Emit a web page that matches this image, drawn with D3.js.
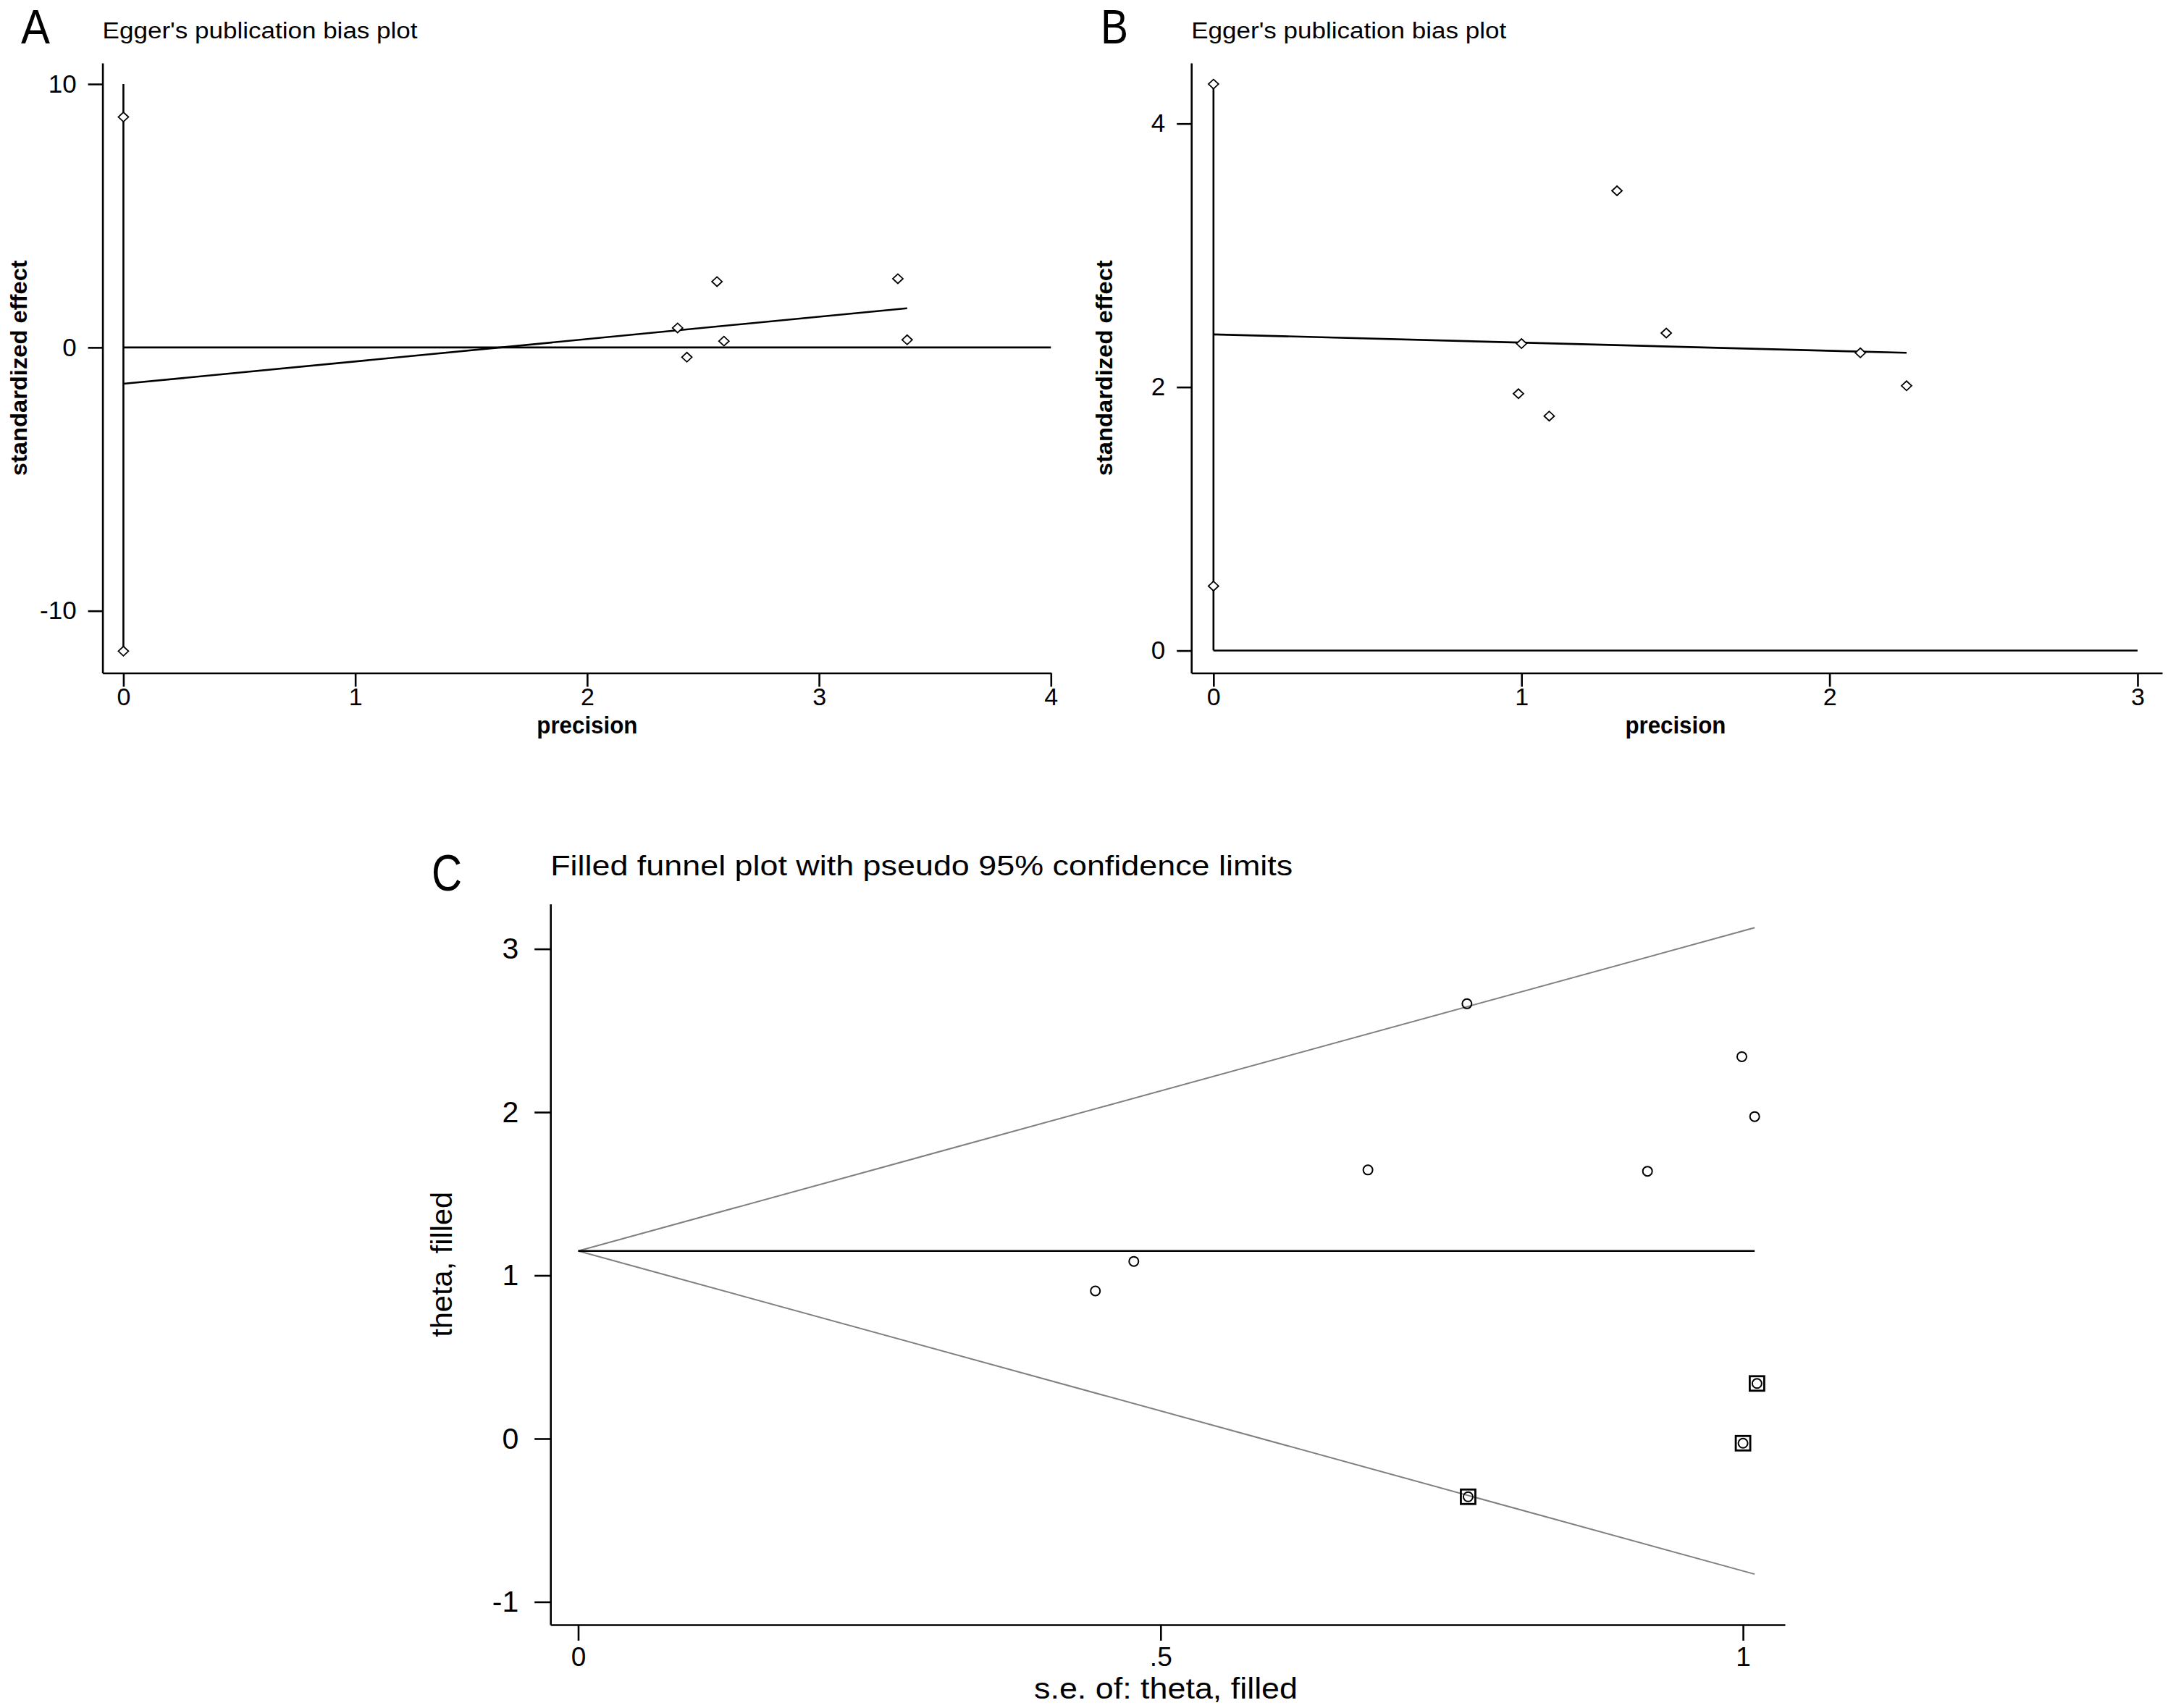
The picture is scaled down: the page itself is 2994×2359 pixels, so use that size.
<!DOCTYPE html>
<html>
<head>
<meta charset="utf-8">
<script src="https://cdn.jsdelivr.net/npm/d3@7"></script>
<style>
  html, body { margin: 0; padding: 0; background: #fff; }
  svg { display: block; }
</style>
</head>
<body>
<svg id="chart" width="2994" height="2359"></svg>
<script>
// --- panel A: Egger's plot ---
var precisionA = [0, 0, 2.39, 2.56, 2.43, 2.59, 3.34, 3.38];
var effectA    = [8.75, -11.53, 0.74, 2.50, -0.37, 0.24, 2.61, 0.29];
var fitA       = [[0, -1.38], [3.38, 1.49]];
var ciA        = [[0, -11.53], [0, 10]];
var zeroA      = [[0, 0], [4, 0]];
var xTicksA = [0, 1, 2, 3, 4],  xTickLabelsA = ['0', '1', '2', '3', '4'];
var yTicksA = [-10, 0, 10],     yTickLabelsA = ['-10', '0', '10'];

// --- panel B: Egger's plot ---
var precisionB = [0, 0, 1.31, 1.47, 1.00, 0.99, 1.09, 2.10, 2.25];
var effectB    = [4.30, 0.49, 3.49, 2.41, 2.33, 1.95, 1.78, 2.26, 2.01];
var fitB       = [[0, 2.40], [2.25, 2.26]];
var ciB        = [[0, 0], [0, 4.30]];
var zeroB      = [[0, 0], [3, 0]];
var xTicksB = [0, 1, 2, 3], xTickLabelsB = ['0', '1', '2', '3'];
var yTicksB = [0, 2, 4],    yTickLabelsB = ['0', '2', '4'];

// --- panel C: filled funnel plot ---
var seObserved    = [0.763, 0.999, 1.010, 0.678, 0.918, 0.477, 0.444];
var thetaObserved = [2.664, 2.340, 1.973, 1.646, 1.638, 1.086, 0.905];
var seFilled      = [1.012, 1.000, 0.764];
var thetaFilled   = [0.338, -0.028, -0.356];
var funnelUpper   = [[0, 1.15], [1.01, 3.13]];
var funnelLower   = [[0, 1.15], [1.01, -0.83]];
var pooledLine    = [[0, 1.15], [1.01, 1.15]];
var xTicksC = [0, 0.5, 1],          xTickLabelsC = ['0', '.5', '1'];
var yTicksC = [-1, 0, 1, 2, 3],     yTickLabelsC = ['-1', '0', '1', '2', '3'];

var svg = d3.select('#chart');
var FONT = '"Liberation Sans", Arial, Helvetica, sans-serif';
var diamond = 'M-7,0L0,-6.5L7,0L0,6.5Z';

function styleAxis(g, size) {
  g.attr('font-family', FONT).attr('font-size', size);
  g.selectAll('path, line').attr('stroke', '#000').attr('stroke-width', 2.6);
  g.selectAll('text').attr('fill', '#000');
}

// panel letters are a narrow face in the original, squeeze them a bit
function panelLetter(t, x, y, w) {
  svg.append('text').text(t)
    .attr('x', x).attr('y', y)
    .attr('font-family', FONT).attr('font-size', 66)
    .attr('textLength', w).attr('lengthAdjust', 'spacingAndGlyphs');
}

function eggerPanel(o) {
  var x = d3.scaleLinear().domain(o.xDomain).range([o.left, o.right]);
  var y = d3.scaleLinear().domain(o.yDomain).range([929.5, 87]);
  var g = svg.append('g');
  var line = d3.line().x(function (d) { return x(d[0]); }).y(function (d) { return y(d[1]); });

  g.append('g')
    .attr('transform', 'translate(0,' + y.range()[0] + ')')
    .call(d3.axisBottom(x).tickValues(o.xTicks).tickSizeInner(19).tickSizeOuter(0).tickPadding(1.5)
      .tickFormat(function (d, i) { return o.xLabels[i]; }))
    .call(styleAxis, 34);

  g.append('g')
    .attr('transform', 'translate(' + x.range()[0] + ',0)')
    .call(d3.axisLeft(y).tickValues(o.yTicks).tickSizeInner(20).tickSizeOuter(0).tickPadding(16)
      .tickFormat(function (d, i) { return o.yLabels[i]; }))
    .call(styleAxis, 35);

  [o.zero, o.ci, o.fit].forEach(function (seg) {
    g.append('path').attr('d', line(seg))
      .attr('fill', 'none').attr('stroke', '#000').attr('stroke-width', 2.6);
  });

  g.selectAll('.pt').data(o.px).enter().append('path')
    .attr('class', 'pt')
    .attr('d', diamond)
    .attr('transform', function (d, i) { return 'translate(' + x(d) + ',' + y(o.py[i]) + ')'; })
    .attr('fill', '#fff').attr('stroke', '#000').attr('stroke-width', 1.8);

  panelLetter(o.letter, o.letterX, 60, o.letterW);

  svg.append('text').text("Egger's publication bias plot")
    .attr('x', x.range()[0]).attr('y', 53)
    .attr('font-family', FONT).attr('font-size', 31)
    .attr('textLength', 435).attr('lengthAdjust', 'spacingAndGlyphs');

  svg.append('text').text('precision')
    .attr('x', x(o.xTicks[o.xTicks.length - 1] / 2)).attr('y', 1013)
    .attr('text-anchor', 'middle')
    .attr('font-family', FONT).attr('font-size', 34).attr('font-weight', 'bold')
    .attr('textLength', 139).attr('lengthAdjust', 'spacingAndGlyphs');

  svg.append('text').text('standardized effect')
    .attr('transform', 'translate(' + o.yTitleX + ',' + (87 + 929.5) / 2 + ') rotate(-90)')
    .attr('text-anchor', 'middle')
    .attr('font-family', FONT).attr('font-size', 32).attr('font-weight', 'bold')
    .attr('textLength', 298).attr('lengthAdjust', 'spacingAndGlyphs');
}

eggerPanel({
  letter: 'A', letterX: 29, letterW: 40, yTitleX: 37,
  xDomain: [-0.09, 4], yDomain: [-12.36, 10.8], left: 141.6, right: 1451.3,
  xTicks: xTicksA, xLabels: xTickLabelsA, yTicks: yTicksA, yLabels: yTickLabelsA,
  px: precisionA, py: effectA, fit: fitA, ci: ciA, zero: zeroA
});

eggerPanel({
  letter: 'B', letterX: 1520, letterW: 38, yTitleX: 1536,
  xDomain: [-0.072, 3.08], yDomain: [-0.17, 4.46], left: 1645.2, right: 2986,
  xTicks: xTicksB, xLabels: xTickLabelsB, yTicks: yTicksB, yLabels: yTickLabelsB,
  px: precisionB, py: effectB, fit: fitB, ci: ciB, zero: zeroB
});

// panel C
(function () {
  var x = d3.scaleLinear().domain([-0.0238, 1.036]).range([760.2, 2465]);
  var y = d3.scaleLinear().domain([-1.14, 3.275]).range([2244, 1248.6]);
  var g = svg.append('g');
  var line = d3.line().x(function (d) { return x(d[0]); }).y(function (d) { return y(d[1]); });

  g.append('g')
    .attr('transform', 'translate(0,' + y.range()[0] + ')')
    .call(d3.axisBottom(x).tickValues(xTicksC).tickSizeInner(22).tickSizeOuter(0).tickPadding(9)
      .tickFormat(function (d, i) { return xTickLabelsC[i]; }))
    .call(styleAxis, 37);

  g.append('g')
    .attr('transform', 'translate(' + x.range()[0] + ',0)')
    .call(d3.axisLeft(y).tickValues(yTicksC).tickSizeInner(22).tickSizeOuter(0).tickPadding(22)
      .tickFormat(function (d, i) { return yTickLabelsC[i]; }))
    .call(styleAxis, 41);

  [funnelUpper, funnelLower].forEach(function (seg) {
    g.append('path').attr('d', line(seg))
      .attr('fill', 'none').attr('stroke', '#808080').attr('stroke-width', 2);
  });
  g.append('path').attr('d', line(pooledLine))
    .attr('fill', 'none').attr('stroke', '#000').attr('stroke-width', 2.6);

  g.selectAll('.obs').data(seObserved).enter().append('circle')
    .attr('class', 'obs')
    .attr('cx', function (d) { return x(d); })
    .attr('cy', function (d, i) { return y(thetaObserved[i]); })
    .attr('r', 6.5)
    .attr('fill', 'none').attr('stroke', '#000').attr('stroke-width', 2);

  var filled = g.selectAll('.fill').data(seFilled).enter().append('g')
    .attr('class', 'fill')
    .attr('transform', function (d, i) { return 'translate(' + x(d) + ',' + y(thetaFilled[i]) + ')'; });
  filled.append('rect')
    .attr('x', -10).attr('y', -10).attr('width', 20).attr('height', 20)
    .attr('fill', 'none').attr('stroke', '#000').attr('stroke-width', 2.8);
  filled.append('circle')
    .attr('r', 6.5)
    .attr('fill', 'none').attr('stroke', '#000').attr('stroke-width', 2);

  svg.append('text').text('C')
    .attr('x', 596).attr('y', 1230)
    .attr('font-family', FONT).attr('font-size', 70)
    .attr('textLength', 42).attr('lengthAdjust', 'spacingAndGlyphs');

  svg.append('text').text('Filled funnel plot with pseudo 95% confidence limits')
    .attr('x', x.range()[0]).attr('y', 1209)
    .attr('font-family', FONT).attr('font-size', 39)
    .attr('textLength', 1025).attr('lengthAdjust', 'spacingAndGlyphs');

  svg.append('text').text('s.e. of: theta, filled')
    .attr('x', 1610).attr('y', 2346)
    .attr('text-anchor', 'middle')
    .attr('font-family', FONT).attr('font-size', 40)
    .attr('textLength', 364).attr('lengthAdjust', 'spacingAndGlyphs');

  svg.append('text').text('theta, filled')
    .attr('transform', 'translate(624,' + (y.range()[0] + y.range()[1]) / 2 + ') rotate(-90)')
    .attr('text-anchor', 'middle')
    .attr('font-family', FONT).attr('font-size', 40)
    .attr('textLength', 201).attr('lengthAdjust', 'spacingAndGlyphs');
})();
</script>
</body>
</html>
